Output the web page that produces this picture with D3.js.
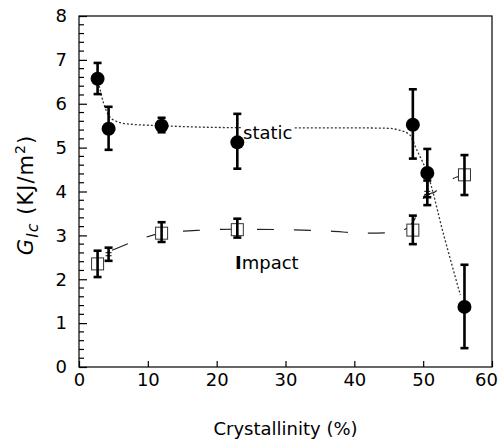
<!DOCTYPE html>
<html>
<head>
<meta charset="utf-8">
<script src="https://cdn.jsdelivr.net/npm/d3@7"></script>
<style>
  body { margin: 0; background: #fff; }
  svg { font-family: "DejaVu Sans", "Liberation Sans", sans-serif; }
</style>
</head>
<body>
<div id="chart"></div>
<script>
// static (filled circles)
const staticX = [2.7, 4.3, 12, 23, 48.5, 50.6, 56];
const staticY = [6.57, 5.43, 5.5, 5.12, 5.52, 4.42, 1.37];
const staticLo = [6.22, 4.95, 5.35, 4.52, 4.75, 3.87, 0.43];
const staticHi = [6.93, 5.93, 5.68, 5.77, 6.33, 4.97, 2.33];

// impact (open squares), some points only show the error bar
const impactX = [2.7, 4.3, 12, 23, 48.5, 50.6, 56];
const impactY = [2.35, 2.57, 3.05, 3.13, 3.12, 3.97, 4.38];
const impactLo = [2.05, 2.42, 2.85, 2.95, 2.8, 3.69, 3.92];
const impactHi = [2.65, 2.72, 3.3, 3.38, 3.45, 4.25, 4.83];
const impactMarker = [true, false, true, true, true, false, true];

// fitted trend curves
const staticFitX = [2.8, 3.6, 4.8, 7, 12, 20, 30, 40, 45, 46.5, 48, 49.1, 50.6, 53, 55.4];
const staticFitY = [6.5, 6.0, 5.65, 5.54, 5.5, 5.46, 5.45, 5.45, 5.44, 5.4, 5.3, 4.94, 4.42, 3.0, 1.64];
const impactFitX = [4.8, 8.1, 12, 18, 23, 30, 36, 42, 45.5, 47.5, 48.5, 49.5, 50.3, 51.7, 53, 54.9, 56];
const impactFitY = [2.66, 2.87, 3.05, 3.12, 3.14, 3.13, 3.1, 3.05, 3.06, 3.15, 3.3, 3.62, 3.92, 3.99, 4.18, 4.33, 4.38];

const xTicks = [0, 10, 20, 30, 40, 50, 60];
const yTicks = [0, 1, 2, 3, 4, 5, 6, 7, 8];

const width = 502, height = 443;
const margin = { top: 16, right: 10, bottom: 76, left: 79 };
const font = "DejaVu Sans, Liberation Sans, sans-serif";

const svg = d3.select("#chart").append("svg")
  .attr("width", width)
  .attr("height", height);

const x = d3.scaleLinear().domain([0, 60]).range([margin.left, width - margin.right]);
const y = d3.scaleLinear().domain([0, 8]).range([height - margin.bottom, margin.top]);

// frame
svg.append("rect")
  .attr("x", x(0)).attr("y", y(8))
  .attr("width", x(60) - x(0)).attr("height", y(0) - y(8))
  .attr("fill", "none").attr("stroke", "#000").attr("stroke-width", 1.2);

// x axis (ticks inward)
const xAxis = d3.axisBottom(x).tickValues(xTicks).tickSize(-6).tickPadding(6);
const gx = svg.append("g")
  .attr("transform", "translate(0," + y(0) + ")")
  .call(xAxis);
gx.select(".domain").remove();
gx.selectAll("line").attr("stroke-width", 1.2);
gx.selectAll("text").attr("font-size", 18).attr("fill", "#000").attr("font-family", font)
  .attr("dx", d => (d === 60 ? -6 : 0));

// y axis minor ticks
const yMinor = d3.range(0, 8.001, 0.2).filter(v => Math.abs(v - Math.round(v)) > 0.01);
svg.append("g").selectAll("line")
  .data(yMinor)
  .enter()
  .append("line")
  .attr("x1", x(0)).attr("x2", x(0) + 5)
  .attr("y1", d => y(d)).attr("y2", d => y(d))
  .attr("stroke", "#000").attr("stroke-width", 1.2);

const yAxis = d3.axisLeft(y).tickValues(yTicks).tickSize(-8).tickPadding(12);
const gy = svg.append("g")
  .attr("transform", "translate(" + x(0) + ",0)")
  .call(yAxis);
gy.select(".domain").remove();
gy.selectAll("line").attr("stroke-width", 1.2);
gy.selectAll("text").attr("font-size", 18).attr("fill", "#000").attr("font-family", font);

// axis titles
svg.append("text")
  .attr("x", (x(0) + x(60)) / 2)
  .attr("y", 435)
  .attr("text-anchor", "middle")
  .attr("font-size", 18)
  .text("Crystallinity (%)");

const yt = svg.append("text")
  .attr("transform", "translate(33," + 195 + ") rotate(-90)")
  .attr("text-anchor", "middle")
  .attr("font-size", 21)
  .attr("letter-spacing", 1);
yt.append("tspan").attr("font-style", "italic").text("G");
yt.append("tspan").attr("font-style", "italic").attr("font-size", 16).attr("dy", 5).text("Ic");
yt.append("tspan").attr("dy", -5).text(" (KJ/m");
yt.append("tspan").attr("font-size", 14).attr("dy", -8).text("2");
yt.append("tspan").attr("dy", 8).text(")");

// trend curves
const line = d3.line().x(d => x(d[0])).y(d => y(d[1])).curve(d3.curveMonotoneX);

svg.append("path")
  .datum(staticFitX.map((v, i) => [v, staticFitY[i]]))
  .attr("d", line)
  .attr("fill", "none").attr("stroke", "#333")
  .attr("stroke-width", 1.3).attr("stroke-dasharray", "2,2");

svg.append("path")
  .datum(impactFitX.map((v, i) => [v, impactFitY[i]]))
  .attr("d", line)
  .attr("fill", "none").attr("stroke", "#222")
  .attr("stroke-width", 1.2).attr("stroke-dasharray", "17,20");

// series labels (white box behind "static" hides the curve)
const labelBg = svg.append("rect").attr("fill", "#fff");
const staticLabel = svg.append("text")
  .attr("x", 243).attr("y", 139)
  .attr("font-size", 18)
  .text("static");
const bb = staticLabel.node().getBBox();
labelBg
  .attr("x", bb.x - 1).attr("y", bb.y + 2)
  .attr("width", bb.width + 2).attr("height", bb.height - 4);

const impactLabel = svg.append("text")
  .attr("x", 235).attr("y", 269)
  .attr("font-size", 18);
impactLabel.append("tspan").attr("font-weight", "bold").text("I");
impactLabel.append("tspan").text("mpact");

// error bar helper
function errorBars(xs, lo, hi) {
  const g = svg.append("g").attr("stroke", "#000");
  xs.forEach((xv, i) => {
    g.append("line")
      .attr("x1", x(xv)).attr("x2", x(xv))
      .attr("y1", y(lo[i])).attr("y2", y(hi[i]))
      .attr("stroke-width", 2.6);
    [lo[i], hi[i]].forEach(v => {
      g.append("line")
        .attr("x1", x(xv) - 4).attr("x2", x(xv) + 4)
        .attr("y1", y(v)).attr("y2", y(v))
        .attr("stroke-width", 2.6);
    });
  });
}

// impact squares
const side = 12;
svg.append("g").selectAll("rect")
  .data(impactX.map((v, i) => ({ x: v, y: impactY[i], show: impactMarker[i] })).filter(d => d.show))
  .enter()
  .append("rect")
  .attr("x", d => x(d.x) - side / 2)
  .attr("y", d => y(d.y) - side / 2)
  .attr("width", side).attr("height", side)
  .attr("fill", "#fff").attr("stroke", "#333").attr("stroke-width", 1);

errorBars(impactX, impactLo, impactHi);

// small centre ticks on bar-only impact points
impactX.forEach((xv, i) => {
  if (impactMarker[i]) return;
  [-1.5, 1.5].forEach(o => {
    svg.append("line")
      .attr("x1", x(xv) - 3).attr("x2", x(xv) + 3)
      .attr("y1", y(impactY[i]) + o).attr("y2", y(impactY[i]) + o)
      .attr("stroke", "#000").attr("stroke-width", 1);
  });
});

// static circles
errorBars(staticX, staticLo, staticHi);
svg.append("g").selectAll("circle")
  .data(staticX.map((v, i) => ({ x: v, y: staticY[i] })))
  .enter()
  .append("circle")
  .attr("cx", d => x(d.x))
  .attr("cy", d => y(d.y))
  .attr("r", 7)
  .attr("fill", "#000");
</script>
</body>
</html>
